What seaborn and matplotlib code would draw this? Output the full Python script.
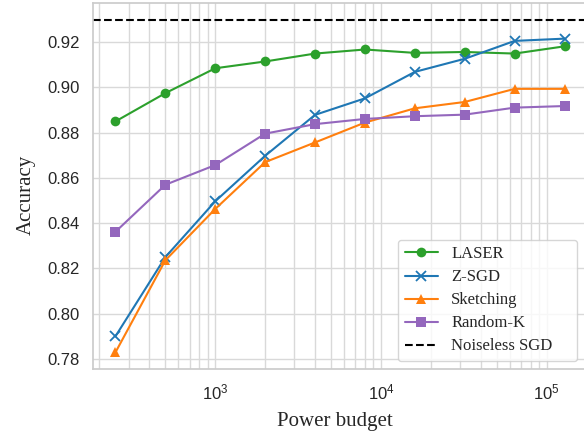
import matplotlib
matplotlib.use("Agg")
import matplotlib.pyplot as plt
import seaborn as sns
import pandas as pd

budgets = [250, 500, 1000, 2000, 4000, 8000, 16000, 32000, 64000, 128000]
laser = [0.885, 0.8975, 0.9085, 0.9115, 0.915, 0.9168, 0.9153, 0.9157, 0.915, 0.9182]
zsgd = [0.790, 0.825, 0.8497, 0.8698, 0.8879, 0.8952, 0.9069, 0.9127, 0.9206, 0.9216]
sketching = [0.7829, 0.8236, 0.8463, 0.867, 0.8757, 0.8845, 0.8908, 0.8936, 0.8994, 0.8994]
random_k = [0.8362, 0.857, 0.8657, 0.8796, 0.8838, 0.8861, 0.8873, 0.888, 0.8911, 0.8918]
noiseless = 0.93

series_names = ["LASER", "Z-SGD", "Sketching", "Random-K"]
series_vals = [laser, zsgd, sketching, random_k]
colors = ["#2ca02c", "#1f77b4", "#ff7f0e", "#9467bd"]
markers = ["o", "x", "^", "s"]
yticks = [0.78, 0.80, 0.82, 0.84, 0.86, 0.88, 0.90, 0.92]

sns.set_theme(style="whitegrid")
plt.rcParams["font.family"] = ["Liberation Sans", "DejaVu Sans"]
plt.rcParams["mathtext.fontset"] = "custom"
plt.rcParams["mathtext.rm"] = "Liberation Sans"
plt.rcParams["mathtext.it"] = "Liberation Sans:italic"

fig = plt.figure(figsize=(5.84, 4.34), dpi=100)
ax = fig.add_axes([93 / 584, 65 / 434, (587 - 93) / 584, (369 - 3) / 434])

for name, vals, c, m in zip(series_names, series_vals, colors, markers):
    df = pd.DataFrame({"x": budgets, "y": vals})
    sns.lineplot(data=df, x="x", y="y", ax=ax, color=c, marker=m,
                 markersize=7, linewidth=1.5, label=name,
                 markeredgecolor=c if m == "x" else "none",
                 markeredgewidth=1.3 if m == "x" else 0)

ax.axhline(noiseless, color="black", linestyle="--", linewidth=1.5, label="Noiseless SGD")
ax.set_xscale("log")
ax.grid(True, which="major", color="#d9d9d9", linewidth=1)
ax.grid(True, which="minor", axis="x", color="#d9d9d9", linewidth=1)
ax.set_yticks(yticks)
ax.set_yticklabels([f"{v:.2f}" for v in yticks])
ax.tick_params(labelsize=12)

serif = ["Liberation Serif", "DejaVu Serif"]
ax.set_xlabel("Power budget", fontsize=15, family=serif)
ax.set_ylabel("Accuracy", fontsize=15, family=serif)
ax.xaxis.set_label_coords(0.49, -0.118)
ax.yaxis.set_label_coords(-0.115, 0.475)

x0 = (398 - 93) / 494
x1 = (577 - 93) / 494
y0 = (369 - 361) / 366
leg = ax.legend(loc="lower left", bbox_to_anchor=(x0, y0, x1 - x0, 0.3),
                mode="expand", borderaxespad=0, labelspacing=0.42,
                prop={"family": serif, "size": 12})
leg.get_frame().set_edgecolor("#cccccc")

fig.savefig("out.png", dpi=100)
